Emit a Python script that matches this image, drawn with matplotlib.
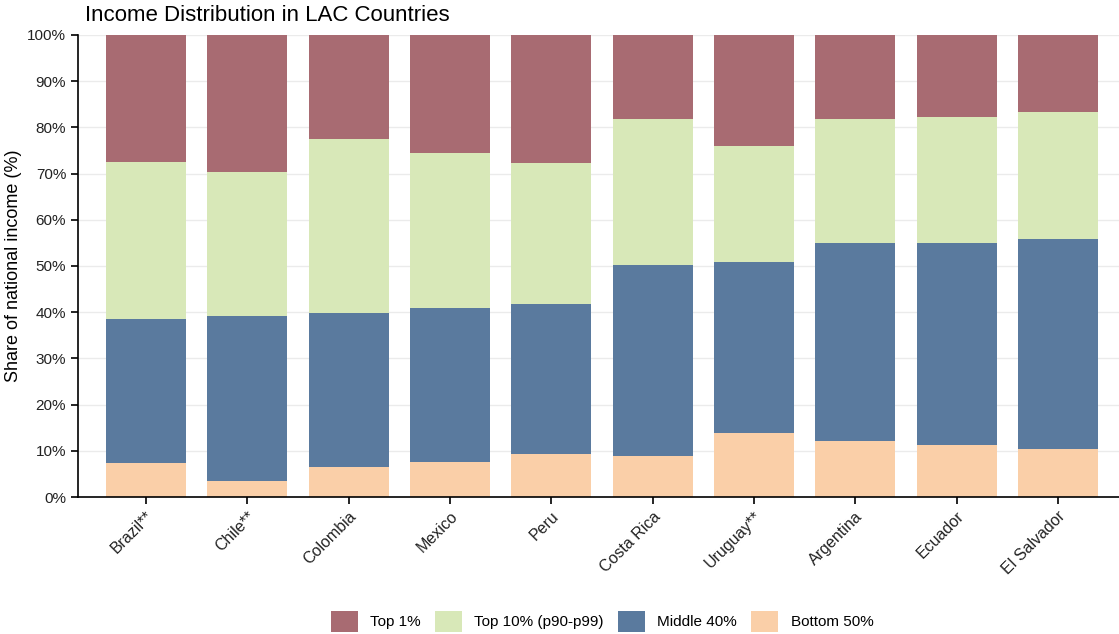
import matplotlib
matplotlib.use("Agg")
import matplotlib.pyplot as plt
import numpy as np
from matplotlib.patches import Patch

countries = ["Brazil**", "Chile**", "Colombia", "Mexico", "Peru", "Costa Rica",
             "Uruguay**", "Argentina", "Ecuador", "El Salvador"]
bottom50 = [7.4, 3.5, 6.5, 7.6, 9.3, 8.9, 13.9, 12.1, 11.3, 10.4]
middle40 = [31.1, 35.7, 33.3, 33.3, 32.5, 41.3, 37.0, 42.9, 43.7, 45.4]
top10 = [34.0, 31.1, 37.7, 33.6, 30.5, 31.6, 25.1, 26.8, 27.3, 27.5]
top1 = [27.5, 29.7, 22.5, 25.5, 27.7, 18.2, 24.0, 18.2, 17.7, 16.7]

labels = ["Top 1%", "Top 10% (p90-p99)", "Middle 40%", "Bottom 50%"]
colors = ["#A86B72", "#D8E8B8", "#5A7A9E", "#FACFA8"]

plt.rcParams['font.family'] = ['Liberation Sans', 'DejaVu Sans']
fig = plt.figure(figsize=(11.19, 6.34), dpi=100)
ax = fig.add_axes([0.0697, 0.216, 0.93, 0.729])

x = np.arange(len(countries))
w = 0.79
b = np.zeros(len(countries))
series = [bottom50, middle40, top10, top1]
cols = [colors[3], colors[2], colors[1], colors[0]]
for vals, c in zip(series, cols):
    v = np.array(vals) / 100
    ax.bar(x, v, w, bottom=b, color=c, zorder=2)
    b += v

ax.set_ylim(0, 1)
ax.set_xlim(-0.67, 9.6)
ax.set_yticks(np.arange(0, 1.01, 0.1))
ax.set_yticklabels([f"{int(round(t*100))}%" for t in np.arange(0, 1.01, 0.1)], fontsize=11)
ax.set_xticks(x)
ax.set_xticklabels(countries, rotation=45, ha="right", rotation_mode="anchor", fontsize=11.5)
ax.yaxis.grid(True, color="#EBEBEB", linewidth=1, zorder=0)
ax.set_axisbelow(True)
for s in ["top", "right"]:
    ax.spines[s].set_visible(False)
ax.spines["left"].set_linewidth(1.2)
ax.spines["bottom"].set_linewidth(1.2)
ax.tick_params(axis="both", length=5, width=1.2, color="black", labelcolor="#222222")
ax.set_ylabel("Share of national income (%)", fontsize=13)
fig.text(0.076, 0.975, "Income Distribution in LAC Countries", fontsize=16, va="center", ha="left")

handles = [Patch(facecolor=c, edgecolor="none") for c in colors]
fig.legend(handles, labels, loc="center", bbox_to_anchor=(0.538, 0.02), ncol=4, frameon=False,
           fontsize=11, handlelength=1.8, handleheight=1.8, columnspacing=0.9, handletextpad=0.8)

fig.savefig("out.png", dpi=100)
